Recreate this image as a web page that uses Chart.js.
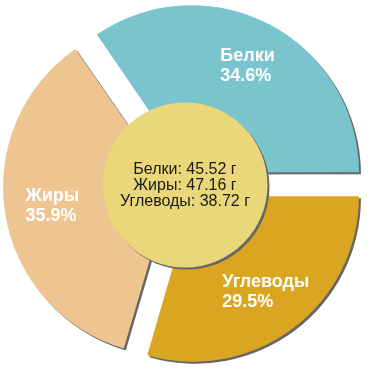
<!DOCTYPE html>
<html>
<head>
<meta charset="utf-8">
<script src="https://cdn.jsdelivr.net/npm/chart.js@4/dist/chart.umd.min.js"></script>
<style>
html,body{margin:0;padding:0;background:#fff;}
#wrap{width:370px;height:370px;}
</style>
</head>
<body>
<div id="wrap"><canvas id="c" width="370" height="370"></canvas></div>
<script>
const categories = ['Белки', 'Углеводы', 'Жиры'];
const percents = [34.6, 29.5, 35.9];
const grams = [45.52, 38.72, 47.16];
const centerOrder = ['Белки', 'Жиры', 'Углеводы'];
const colors = ['#7AC5CD', '#DAA520', '#EEC591'];

const EXPLODE = 14;
const SHADOW = '#666666';

const shadowPlugin = {
  id: 'shadow',
  beforeDatasetsDraw(chart) {
    const ctx = chart.ctx;
    ctx.save();
    ctx.shadowColor = SHADOW;
    ctx.shadowOffsetX = 2;
    ctx.shadowOffsetY = 2;
    ctx.shadowBlur = 0;
  },
  afterDatasetsDraw(chart) {
    const ctx = chart.ctx;
    ctx.restore();
    const meta = chart.getDatasetMeta(0);
    const arcs = meta.data;
    const cx = arcs[0].x, cy = arcs[0].y;
    const R = arcs[0].outerRadius;
    // center circle
    ctx.save();
    ctx.shadowColor = SHADOW;
    ctx.shadowOffsetX = 2;
    ctx.shadowOffsetY = 2;
    ctx.beginPath();
    ctx.arc(cx, cy, R * 0.5, 0, Math.PI * 2);
    ctx.fillStyle = '#E9D77A';
    ctx.fill();
    ctx.restore();
    // center text
    ctx.save();
    ctx.fillStyle = '#1a1a1a';
    ctx.font = '16px "Liberation Sans", Arial, sans-serif';
    ctx.textAlign = 'center';
    ctx.textBaseline = 'middle';
    const lh = 16;
    centerOrder.forEach((name, i) => {
      const g = grams[categories.indexOf(name)];
      ctx.fillText(name + ': ' + g.toFixed(2) + ' г', cx, cy + (i - 1) * lh + 1);
    });
    ctx.restore();
    // slice labels
    ctx.save();
    ctx.fillStyle = '#ffffff';
    ctx.font = 'bold 18px "Liberation Sans", Arial, sans-serif';
    ctx.textAlign = 'left';
    ctx.textBaseline = 'middle';
    arcs.forEach((a, i) => {
      const mid = (a.startAngle + a.endAngle) / 2;
      const d = EXPLODE + R * 0.73;
      const lx = a.x + Math.cos(mid) * d;
      const ly = a.y + Math.sin(mid) * d;
      const lines = [categories[i], percents[i].toFixed(1) + '%'];
      const w = Math.max(...lines.map(t => ctx.measureText(t).width));
      lines.forEach((t, k) => {
        ctx.fillText(t, lx - w / 2, ly + (k - 0.5) * 20);
      });
    });
    ctx.restore();
  }
};

new Chart(document.getElementById('c'), {
  type: 'pie',
  data: {
    labels: categories,
    datasets: [{
      data: percents,
      backgroundColor: colors,
      borderWidth: 0,
      offset: EXPLODE * 4,
      hoverOffset: EXPLODE * 4
    }]
  },
  options: {
    responsive: false,
    animation: false,
    events: [],
    radius: 165,
    rotation: 90 - percents[0] / 100 * 360,
    layout: { padding: 0 },
    plugins: {
      legend: { display: false },
      tooltip: { enabled: false }
    }
  },
  plugins: [shadowPlugin]
});
</script>
</body>
</html>
